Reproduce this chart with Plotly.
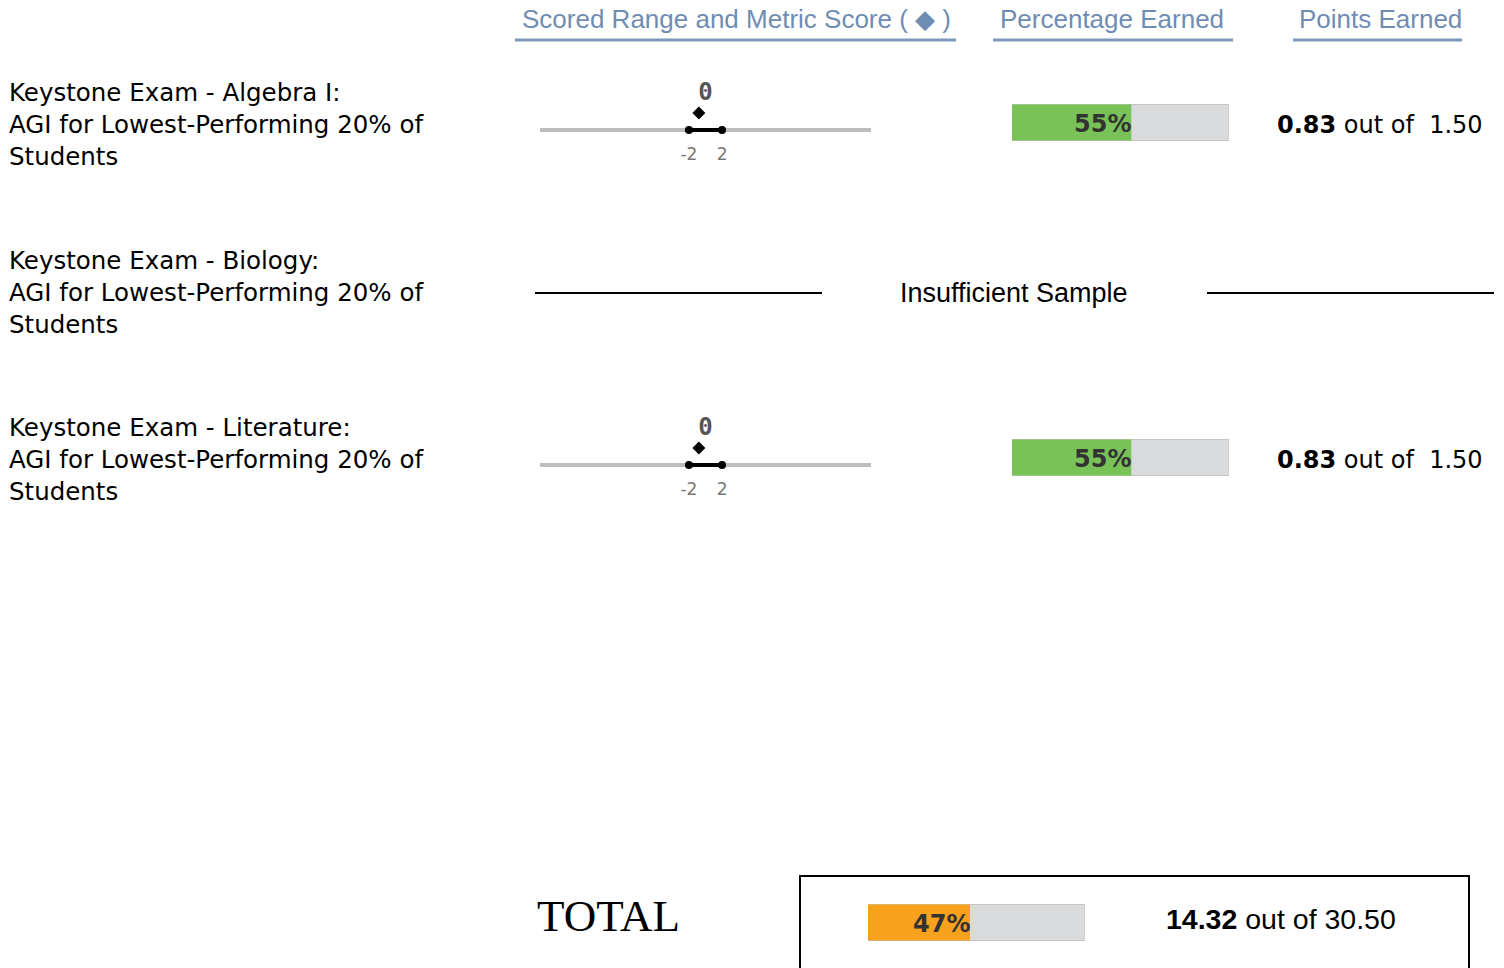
import plotly.graph_objects as go

W, H = 1504, 968

# ---------------- data ----------------
categories = [
    "Keystone Exam - Algebra I:<br>AGI for Lowest-Performing 20% of<br>Students",
    "Keystone Exam - Biology:<br>AGI for Lowest-Performing 20% of<br>Students",
    "Keystone Exam - Literature:<br>AGI for Lowest-Performing 20% of<br>Students",
]
range_low = [-2, None, -2]
range_high = [2, None, 2]
metric_score = [0, None, 0]
pct_earned = [55, None, 55]
points_earned = [0.83, None, 0.83]
points_possible = [1.50, None, 1.50]
headers = ["Scored Range and Metric Score ( \u25c6 )", "Percentage Earned", "Points Earned"]
total_label = "TOTAL"
total_pct = 47
total_points = 14.32
total_possible = 30.50

# ---------------- layout constants ----------------
ROW_Y = [124, 292, 459]          # row centre (pixels from top)
LINE_DY = 6                      # range line offset from row centre
HEADER_COLOR = "#6f8db3"
UNDER_COLOR = "#7d98bb"
SANS = "Tahoma, DejaVu Sans, sans-serif"
NARROW = "Liberation Sans, Arial, sans-serif"

def px(x):
    return x / W

fig = go.Figure()

for i, yc in enumerate(ROW_Y):
    if metric_score[i] is None:
        continue
    ly = yc + LINE_DY
    fig.add_trace(go.Scatter(x=[-20, 20], y=[ly, ly], mode="lines",
                             line=dict(color="#bdbdbd", width=4), xaxis="x", yaxis="y",
                             hoverinfo="skip", showlegend=False))
    fig.add_trace(go.Scatter(x=[range_low[i], range_high[i]], y=[ly, ly], mode="lines+markers",
                             line=dict(color="black", width=4),
                             marker=dict(color="black", size=8),
                             xaxis="x", yaxis="y", showlegend=False))
    fig.add_trace(go.Scatter(x=[range_low[i], range_high[i]], y=[ly + 26, ly + 26], mode="text",
                             text=[f"{range_low[i]:g}", f"{range_high[i]:g}"],
                             textfont=dict(family=SANS, size=17, color="#777777"),
                             xaxis="x", yaxis="y", hoverinfo="skip", showlegend=False))
    fig.add_trace(go.Scatter(x=[metric_score[i] - 0.8], y=[ly - 17], mode="markers",
                             marker=dict(symbol="diamond", color="black", size=10),
                             xaxis="x", yaxis="y", showlegend=False))
    fig.add_trace(go.Scatter(x=[metric_score[i]], y=[ly - 36], mode="text",
                             text=[f"<b>{metric_score[i]:g}</b>"],
                             textfont=dict(family="DejaVu Sans Mono, monospace", size=24, color="#555555"),
                             xaxis="x", yaxis="y", hoverinfo="skip", showlegend=False))

# percentage bars
for i, yc in enumerate(ROW_Y):
    if pct_earned[i] is None:
        continue
    by = yc - 1.5
    fig.add_trace(go.Bar(x=[100], y=[by], orientation="h", width=36,
                         marker=dict(color="#d9dadc", line=dict(color="#c4c4c4", width=1)),
                         xaxis="x2", yaxis="y", showlegend=False))
    fig.add_trace(go.Bar(x=[pct_earned[i]], y=[by], orientation="h", width=36,
                         marker=dict(color="#79c257", line=dict(width=0)),
                         xaxis="x2", yaxis="y", showlegend=False))
    fig.add_annotation(x=pct_earned[i], y=by + 1, xref="x2", yref="y", xanchor="right",
                       text=f"<b>{pct_earned[i]}%</b>", showarrow=False, xshift=2,
                       font=dict(family=SANS, size=24, color="#333333"))
    fig.add_annotation(x=px(1275), y=yc + 1, xref="paper", yref="y", xanchor="left",
                       text=f"<b>{points_earned[i]:.2f}</b> out of  {points_possible[i]:.2f}",
                       showarrow=False, font=dict(family=SANS, size=24, color="black"))

# total bar
TOT_Y = 922.5
fig.add_trace(go.Bar(x=[100], y=[TOT_Y], orientation="h", width=36,
                     marker=dict(color="#d9dadc", line=dict(color="#c4c4c4", width=1)),
                     xaxis="x3", yaxis="y", showlegend=False))
fig.add_trace(go.Bar(x=[total_pct], y=[TOT_Y], orientation="h", width=36,
                     marker=dict(color="#f8a11c", line=dict(width=0)),
                     xaxis="x3", yaxis="y", showlegend=False))
fig.add_annotation(x=total_pct, y=TOT_Y + 1, xref="x3", yref="y", xanchor="right",
                   text=f"<b>{total_pct}%</b>", showarrow=False, xshift=2,
                   font=dict(family=SANS, size=24, color="#333333"))
fig.add_annotation(x=px(1164), y=919, xref="paper", yref="y", xanchor="left",
                   text=f"<b>{total_points:.2f}</b> out of {total_possible:.2f}",
                   showarrow=False, font=dict(family=NARROW, size=28.5, color="black"))
fig.add_annotation(x=px(608), y=916, xref="paper", yref="y", xanchor="center",
                   text=total_label, showarrow=False,
                   font=dict(family="Liberation Serif, Times New Roman, serif", size=45, color="black"))
fig.add_shape(type="rect", xref="paper", yref="y", x0=px(800), x1=px(1469), y0=876, y1=985,
              line=dict(color="black", width=2))

# row labels
for i, yc in enumerate(ROW_Y):
    fig.add_annotation(x=px(7), y=yc, xref="paper", yref="y", xanchor="left", yanchor="middle",
                       align="left", text=categories[i], showarrow=False,
                       font=dict(family=SANS, size=24.5, color="black"))

# insufficient sample row
fig.add_shape(type="line", xref="paper", yref="y", x0=px(535), x1=px(822), y0=293, y1=293,
              line=dict(color="black", width=2))
fig.add_shape(type="line", xref="paper", yref="y", x0=px(1207), x1=px(1494), y0=293, y1=293,
              line=dict(color="black", width=2))
fig.add_annotation(x=px(1014), y=293, xref="paper", yref="y", xanchor="center",
                   text="Insufficient Sample",
                   showarrow=False, font=dict(family=NARROW, size=27, color="black"))

# headers
hdr_x = [736, 1112, 1380]
hdr_ul = [(515, 956), (993, 1233), (1293, 1462)]
for t, hx, (u0, u1) in zip(headers, hdr_x, hdr_ul):
    fig.add_annotation(x=px(hx), y=19, xref="paper", yref="y", xanchor="center", text=t,
                       showarrow=False, font=dict(family=NARROW, size=26, color=HEADER_COLOR))
    fig.add_shape(type="line", xref="paper", yref="y", x0=px(u0), x1=px(u1), y0=40, y1=40,
                  line=dict(color=UNDER_COLOR, width=3))

hidden = dict(visible=False, showgrid=False, zeroline=False, fixedrange=True)
fig.update_layout(
    width=W, height=H, margin=dict(l=0, r=0, t=0, b=0),
    paper_bgcolor="white", plot_bgcolor="rgba(0,0,0,0)", barmode="overlay",
    xaxis=dict(domain=[px(540), px(871)], range=[-20, 20], anchor="y", **hidden),
    xaxis2=dict(domain=[px(1012), px(1229)], range=[0, 100], anchor="y", **hidden),
    xaxis3=dict(domain=[px(868), px(1085)], range=[0, 100], anchor="y", **hidden),
    yaxis=dict(domain=[0, 1], range=[H, 0], **hidden),
    showlegend=False,
)

fig.write_html("out.html", config={"displayModeBar": False},
               post_script="document.body.style.margin='0';")
